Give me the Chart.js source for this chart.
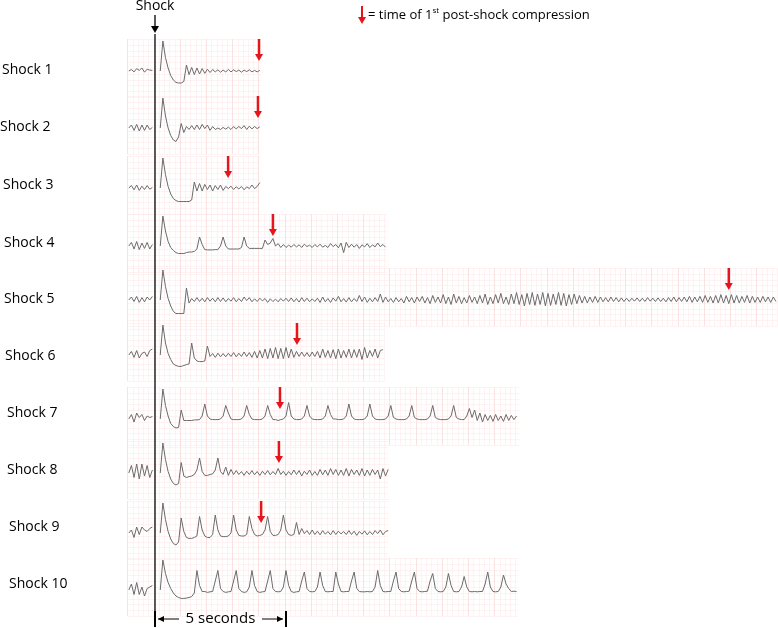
<!DOCTYPE html>
<html>
<head>
<meta charset="utf-8">
<script src="https://cdn.jsdelivr.net/npm/chart.js@4.4.1/dist/chart.umd.min.js"></script>
<style>
  html, body { margin: 0; padding: 0; background: #fff; }
  #wrap { width: 778px; height: 628px; }
</style>
</head>
<body>
<div id="wrap"><canvas id="ecg" width="778" height="628"></canvas></div>
<script>
// Strip names
const stripLabels = ['Shock 1','Shock 2','Shock 3','Shock 4','Shock 5','Shock 6','Shock 7','Shock 8','Shock 9','Shock 10'];

// Time (s) of 1st post-shock compression, per strip
const compressionTimes = [3.97, 3.93, 2.79, 4.5, 21.9, 5.42, 4.77, 4.73, 4.05];

// End of recorded strip (s)
const stripEnds = [4.05, 3.97, 3.97, 8.85, 23.75, 8.75, 13.9, 8.9, 8.9, 13.85];

// Pre-shock samples, t = -1.0 .. -0.1 s, step 0.1
const pre1 = [0,.05,-.03,.08,.02,.1,-.04,.06,.03,.02];
const pre2 = [0,.1,-.08,.12,-.1,.1,-.08,.1,-.05,.02];
const pre3 = [0,.08,-.06,.1,-.08,.06,-.05,.08,-.04,.02];
const pre4 = [0,.12,-.1,.15,-.12,.1,-.08,.12,-.1,.05];
const pre5 = [0,.1,-.05,.12,-.08,.08,-.06,.1,0,.12];
const pre6 = [0,.12,-.08,.15,-.1,.05,.1,-.05,.15,.2];
const pre7 = [0,.15,-.1,.2,.05,.15,-.05,.1,.05,.08];
const pre8 = [0,.25,-.15,.3,-.2,.3,-.1,.25,-.15,.1];
const pre9 = [0,.1,-.15,.2,-.05,.2,.1,.05,.15,.2];
const pre10 = [0,.2,-.15,.25,-.15,.1,-.2,.05,.1,.15];

// Post-shock samples, t = 0.2 s onward, step 0.1
const post1 = [0,1,.45,.1,-.15,-.3,-.38,-.4,-.4,-.35,.2,-.12,.12,-.12,.1,-.1,.08,-.08,.06,-.05,
  .05,-.03,.04,-.04,.03,-.03,.05,-.03,.04,-.02,.03,-.04,.03,-.02,.04,-.03,.02,-.03,.02];
const post2 = [0,1,.4,0,-.25,-.4,-.45,-.3,.15,-.15,.05,-.05,.08,-.05,.1,-.05,.12,-.02,.1,-.08,
  .05,-.05,0,-.05,.02,-.04,.03,-.05,.05,-.03,.05,-.02,.08,-.05,.06,-.03,.05,-.02,.04];
const post3 = [0,1,.45,.05,-.2,-.35,-.42,-.45,-.45,-.45,-.45,-.45,-.4,.2,-.1,.15,-.1,.12,-.05,.1,
  -.1,.08,-.05,.1,-.08,.05,-.02,.06,-.05,.04,-.03,.05,-.06,.04,-.02,.1,-.02,.05,.18];
const post4 = [0,1,.5,.15,-.05,-.15,-.22,-.25,-.25,-.25,
  -.22,-.2,-.2,-.18,-.1,.3,.05,-.12,-.13,-.13,
  -.13,-.12,-.12,0,.3,0,-.1,-.1,-.1,-.1,
  -.1,-.05,.3,0,-.08,-.08,-.08,-.08,-.08,-.08,
  .2,.05,.1,.25,0,.08,-.05,.05,-.05,.03,
  -.04,.05,-.03,.04,-.05,.06,-.02,.03,-.05,.05,
  -.03,.06,-.04,.02,-.05,.08,-.02,.05,-.06,.1,
  -.22,.12,-.05,.06,-.04,.05,-.08,.04,-.03,.08,
  -.05,.04,-.03,.1,-.02,.05,-.04];
const post5 = [0,1,.45,.05,-.2,-.38,-.45,-.45,-.45,-.45,
  .4,-.1,.05,-.05,.08,-.05,.06,-.06,.08,-.04,
  .06,-.06,.08,-.05,.07,-.06,.05,-.04,.08,-.06,
  .05,-.05,.1,-.02,.08,-.06,.04,-.05,.06,-.03,
  .05,-.08,.04,-.05,.03,-.06,.05,-.04,.06,-.05,
  .07,-.06,.05,-.07,.08,-.05,.06,-.06,.04,-.05,
  .06,-.08,.1,-.06,.05,-.08,.07,-.04,.12,-.06,
  .05,-.07,.08,-.06,.05,-.05,.15,-.05,.1,-.08,
  .06,-.06,.08,-.05,.2,-.08,.1,-.06,.05,-.08,
  .08,-.06,.05,-.1,.12,-.06,.08,-.1,.1,-.05,
  .12,-.1,.08,-.12,.15,-.08,.1,-.1,.18,-.12,
  .1,-.15,.2,-.1,.12,-.12,.08,-.1,.15,-.08,
  .1,-.12,.15,-.1,.2,-.15,.1,-.12,.18,-.1,
  .22,-.12,.1,-.15,.2,-.12,.25,-.15,.18,-.2,
  .22,-.15,.25,-.18,.2,-.15,.25,-.2,.22,-.18,
  .2,-.15,.25,-.18,.22,-.2,.18,-.15,.2,-.12,
  .15,-.1,.12,-.1,.1,-.08,.12,-.08,.1,-.06,
  .08,-.06,.1,-.05,.08,-.06,.07,-.05,.06,-.05,
  .06,-.04,.07,-.05,.06,-.05,.08,-.04,.06,-.05,
  .07,-.05,.06,-.06,.08,-.05,.1,-.06,.08,-.05,
  .1,-.06,.12,-.08,.1,-.06,.12,-.08,.15,-.08,
  .12,-.1,.15,-.1,.18,-.1,.15,-.12,.18,-.1,
  .15,-.1,.12,-.08,.15,-.1,.12,-.08,.1,-.08,
  .12,-.06,.1,-.08,.1,-.05];
const post6 = [0,1,.4,.05,-.15,-.3,-.35,-.38,-.38,-.35,
  -.32,-.3,.4,-.1,-.2,-.22,-.22,-.2,.3,-.05,
  .05,-.08,.06,-.06,.05,-.06,.06,-.05,.08,-.06,
  .06,-.05,.1,-.05,.08,-.08,.12,-.1,.15,-.1,
  .2,-.12,.22,-.1,.25,-.12,.22,-.12,.25,-.1,
  .2,-.08,.12,-.05,.1,-.05,.08,-.06,.1,-.05,
  .12,-.1,.2,-.08,.15,-.1,.18,-.12,.2,-.1,
  .15,-.08,.2,-.1,.18,-.08,.2,-.15,.25,-.1,
  .15,-.05,.2,-.1,.15,.18];
const post7 = [0,1,.45,.1,-.15,-.25,-.3,-.28,.3,-.05,
  -.05,-.05,-.05,-.03,-.03,-.02,.1,.5,.1,0,
  -.02,-.02,-.02,0,.1,.45,.2,0,-.02,-.02,
  -.02,0,.1,.45,.15,0,-.02,-.02,-.02,0,
  .1,.45,.15,-.02,-.02,-.05,-.02,0,.1,.55,
  .1,0,-.02,-.02,0,.1,.45,.1,0,-.02,
  -.02,-.02,0,.1,.45,.15,0,0,-.02,-.02,
  0,.1,.5,.1,0,-.02,-.02,-.02,0,.1,
  .5,.1,0,-.02,-.02,-.02,0,.1,.45,.05,
  0,-.02,-.02,-.02,0,.1,.45,.05,0,-.02,
  -.02,-.02,0,.1,.45,.05,0,-.02,-.02,-.02,
  0,.1,.45,.05,0,-.02,-.02,.1,.35,.05,
  .3,-.05,.2,-.1,.15,-.05,.12,-.08,.15,-.05,
  .1,-.08,.15,-.05,.12,-.02,.1];
const post8 = [0,1,.45,.05,-.2,-.35,-.4,-.35,.35,-.1,
  -.15,-.12,-.1,-.05,.1,.5,.05,-.08,-.08,-.05,
  -.03,.1,.5,.05,-.05,.2,-.08,.12,-.05,.08,
  -.05,.05,-.08,.06,-.05,.08,-.06,.05,-.08,.06,
  -.05,.08,-.06,.05,-.05,.15,-.05,.06,-.08,.05,
  -.06,.1,-.05,.08,-.1,.06,-.05,.1,-.08,.05,
  -.08,.12,-.06,.1,-.08,.15,-.05,.12,-.08,.1,
  -.08,.15,-.1,.12,-.05,.1,-.08,.15,-.1,.1,
  -.08,.12,-.05,.1,-.2,.15,-.1,.12];
const post9 = [0,1,.45,.05,-.2,-.35,-.4,-.3,.5,.05,
  -.15,-.18,-.18,-.15,-.1,.55,.1,-.1,-.15,-.15,
  -.05,.6,.1,-.1,-.12,-.12,-.1,0,.6,.1,
  -.08,-.1,-.1,-.05,.55,.15,-.05,-.1,-.08,-.05,
  .1,.55,.05,-.08,-.08,-.05,.1,.6,.1,-.05,
  -.08,-.05,.35,-.05,.15,-.02,.08,-.05,.1,-.05,
  .06,-.06,.08,-.04,.05,-.06,.08,-.05,.06,-.03,
  .05,-.05,.08,-.05,.06,-.08,.05,-.04,.07,-.06,
  .05,-.05,.08,-.02,.1,-.06,.05,.08];
const post10 = [0,1,.55,.25,.05,-.1,-.2,-.25,-.28,-.28,
  -.27,-.25,-.22,-.1,.65,.15,-.05,-.05,-.08,-.06,
  -.05,.3,.65,.05,-.05,-.08,-.06,-.05,.3,.65,
  .05,-.05,-.08,-.06,.1,.65,.15,-.05,-.08,-.06,
  -.05,.3,.65,.05,-.05,-.06,-.05,.1,.65,.15,
  -.05,-.08,-.06,-.05,.3,.6,.05,-.05,-.06,-.05,
  .1,.6,.15,-.05,-.06,-.05,-.05,.6,.2,-.05,
  -.06,-.05,-.05,.3,.6,.05,-.05,-.06,-.06,-.05,
  -.06,-.05,.1,.65,.15,-.05,-.06,-.05,-.05,.3,
  .6,.05,-.05,-.06,-.05,-.04,.3,.6,.05,-.05,
  -.06,-.05,-.04,.3,.55,.05,-.05,-.06,-.05,.1,
  .55,.15,-.05,-.06,-.05,.1,.45,.1,-.05,-.06,
  -.05,-.06,-.05,-.05,.2,.6,.1,-.05,-.06,-.05,
  .1,.5,.2,.05,-.05,-.04,-.05];

const preSeries = [pre1, pre2, pre3, pre4, pre5, pre6, pre7, pre8, pre9, pre10];
const postSeries = [post1, post2, post3, post4, post5, post6, post7, post8, post9, post10];

// Layout (pixels)
const baselines = [71, 128, 188, 246, 300, 355, 419, 473, 533, 590];
const labelX = [2, 0, 3, 4, 4, 5, 7, 7, 9, 9];
const labelY = [70, 127, 185, 243, 299, 356, 413, 470, 527, 584];
const ampPx = 30;
const pxPerSec = 26.2;
const shockX = 155;

const datasets = [];
preSeries.forEach((arr, i) => {
    const pts = arr.map((v, k) => ({ x: -1.0 + k * 0.1, y: baselines[i] - v * ampPx }));
    datasets.push({ data: pts });
});
postSeries.forEach((arr, i) => {
    const pts = arr.map((v, k) => ({ x: 0.2 + k * 0.1, y: baselines[i] - v * ampPx }));
    datasets.push({ data: pts });
});
datasets.forEach(d => {
    d.showLine = true;
    d.borderColor = '#6b6b6b';
    d.borderWidth = 1;
    d.pointRadius = 0;
    d.tension = 0;
});

const arrowDown = (ctx, x, y1, y2, color, w) => {
    ctx.save();
    ctx.strokeStyle = color;
    ctx.fillStyle = color;
    ctx.lineWidth = w;
    ctx.beginPath();
    ctx.moveTo(x, y1);
    ctx.lineTo(x, y2 - 6);
    ctx.stroke();
    ctx.beginPath();
    ctx.moveTo(x - 4, y2 - 7);
    ctx.lineTo(x + 4, y2 - 7);
    ctx.lineTo(x, y2);
    ctx.closePath();
    ctx.fill();
    ctx.restore();
};

// Pink ECG paper behind each strip
const gridPlugin = {
    id: 'ecgGrid',
    beforeDatasetsDraw(chart) {
        const ctx = chart.ctx;
        const xs = chart.scales.x;
        ctx.save();
        baselines.forEach((b, i) => {
            const x0 = xs.getPixelForValue(-1.05);
            const x1 = xs.getPixelForValue(stripEnds[i]);
            const top = b - 32, bot = b + 26;
            ctx.lineWidth = 0.6;
            ctx.strokeStyle = '#fdeaea';
            ctx.beginPath();
            for (let x = x0; x <= x1 + 0.1; x += pxPerSec * 0.2) {
                ctx.moveTo(Math.round(x) + 0.5, top);
                ctx.lineTo(Math.round(x) + 0.5, bot);
            }
            for (let y = top; y <= bot + 0.1; y += 5.8) {
                ctx.moveTo(x0, Math.round(y) + 0.5);
                ctx.lineTo(x1, Math.round(y) + 0.5);
            }
            ctx.stroke();
            ctx.strokeStyle = '#f8d6d6';
            ctx.beginPath();
            for (let x = x0; x <= x1 + 0.1; x += pxPerSec) {
                ctx.moveTo(Math.round(x) + 0.5, top);
                ctx.lineTo(Math.round(x) + 0.5, bot);
            }
            ctx.stroke();
        });
        ctx.restore();
    },
    afterDraw(chart) {
        const ctx = chart.ctx;
        const xs = chart.scales.x;
        ctx.save();
        // Shock line
        ctx.strokeStyle = '#333';
        ctx.lineWidth = 1.6;
        ctx.beginPath();
        ctx.moveTo(shockX, 34);
        ctx.lineTo(shockX, 612);
        ctx.stroke();
        arrowDown(ctx, shockX, 15, 33, '#000', 1.3);
        ctx.fillStyle = '#000';
        ctx.font = '14px "Open Sans"';
        ctx.textAlign = 'center';
        ctx.textBaseline = 'middle';
        ctx.fillText('Shock', shockX, 6);

        // Row labels
        ctx.textAlign = 'left';
        stripLabels.forEach((s, i) => ctx.fillText(s, labelX[i], labelY[i]));

        // Compression arrows
        compressionTimes.forEach((t, i) => {
            arrowDown(ctx, xs.getPixelForValue(t), baselines[i] - 32, baselines[i] - 10, '#e8141b', 2.5);
        });

        // Legend
        arrowDown(ctx, 362, 6, 24, '#e8141b', 2);
        ctx.fillStyle = '#000';
        ctx.font = '13px "Open Sans"';
        let lx = 368;
        ctx.fillText('= time of 1', lx, 15);
        lx += ctx.measureText('= time of 1').width;
        ctx.font = '8px "Open Sans"';
        ctx.fillText('st', lx, 11);
        lx += ctx.measureText('st').width;
        ctx.font = '13px "Open Sans"';
        ctx.fillText(' post-shock compression', lx, 15);

        // 5 seconds scale bar
        const x5 = xs.getPixelForValue(5);
        ctx.strokeStyle = '#000';
        ctx.lineWidth = 2;
        ctx.beginPath();
        ctx.moveTo(shockX, 611); ctx.lineTo(shockX, 627);
        ctx.moveTo(x5, 611); ctx.lineTo(x5, 627);
        ctx.stroke();
        ctx.lineWidth = 1;
        ctx.beginPath();
        ctx.moveTo(shockX + 3, 619); ctx.lineTo(shockX + 24, 619);
        ctx.moveTo(x5 - 24, 619); ctx.lineTo(x5 - 3, 619);
        ctx.stroke();
        ctx.fillStyle = '#000';
        ctx.beginPath();
        ctx.moveTo(shockX + 3, 619); ctx.lineTo(shockX + 9, 616); ctx.lineTo(shockX + 9, 622); ctx.closePath();
        ctx.moveTo(x5 - 3, 619); ctx.lineTo(x5 - 9, 616); ctx.lineTo(x5 - 9, 622); ctx.closePath();
        ctx.fill();
        ctx.font = '15px "Open Sans"';
        ctx.textAlign = 'center';
        ctx.fillText('5 seconds', (shockX + x5) / 2, 619);
        ctx.restore();
    }
};

new Chart(document.getElementById('ecg').getContext('2d'), {
    type: 'scatter',
    data: { datasets },
    options: {
        responsive: false,
        animation: false,
        layout: { padding: 0 },
        plugins: { legend: { display: false }, tooltip: { enabled: false } },
        scales: {
            x: { type: 'linear', display: false, min: -shockX / pxPerSec, max: (778 - shockX) / pxPerSec },
            y: { type: 'linear', display: false, min: 0, max: 628, reverse: true }
        }
    },
    plugins: [gridPlugin]
});
</script>
</body>
</html>
